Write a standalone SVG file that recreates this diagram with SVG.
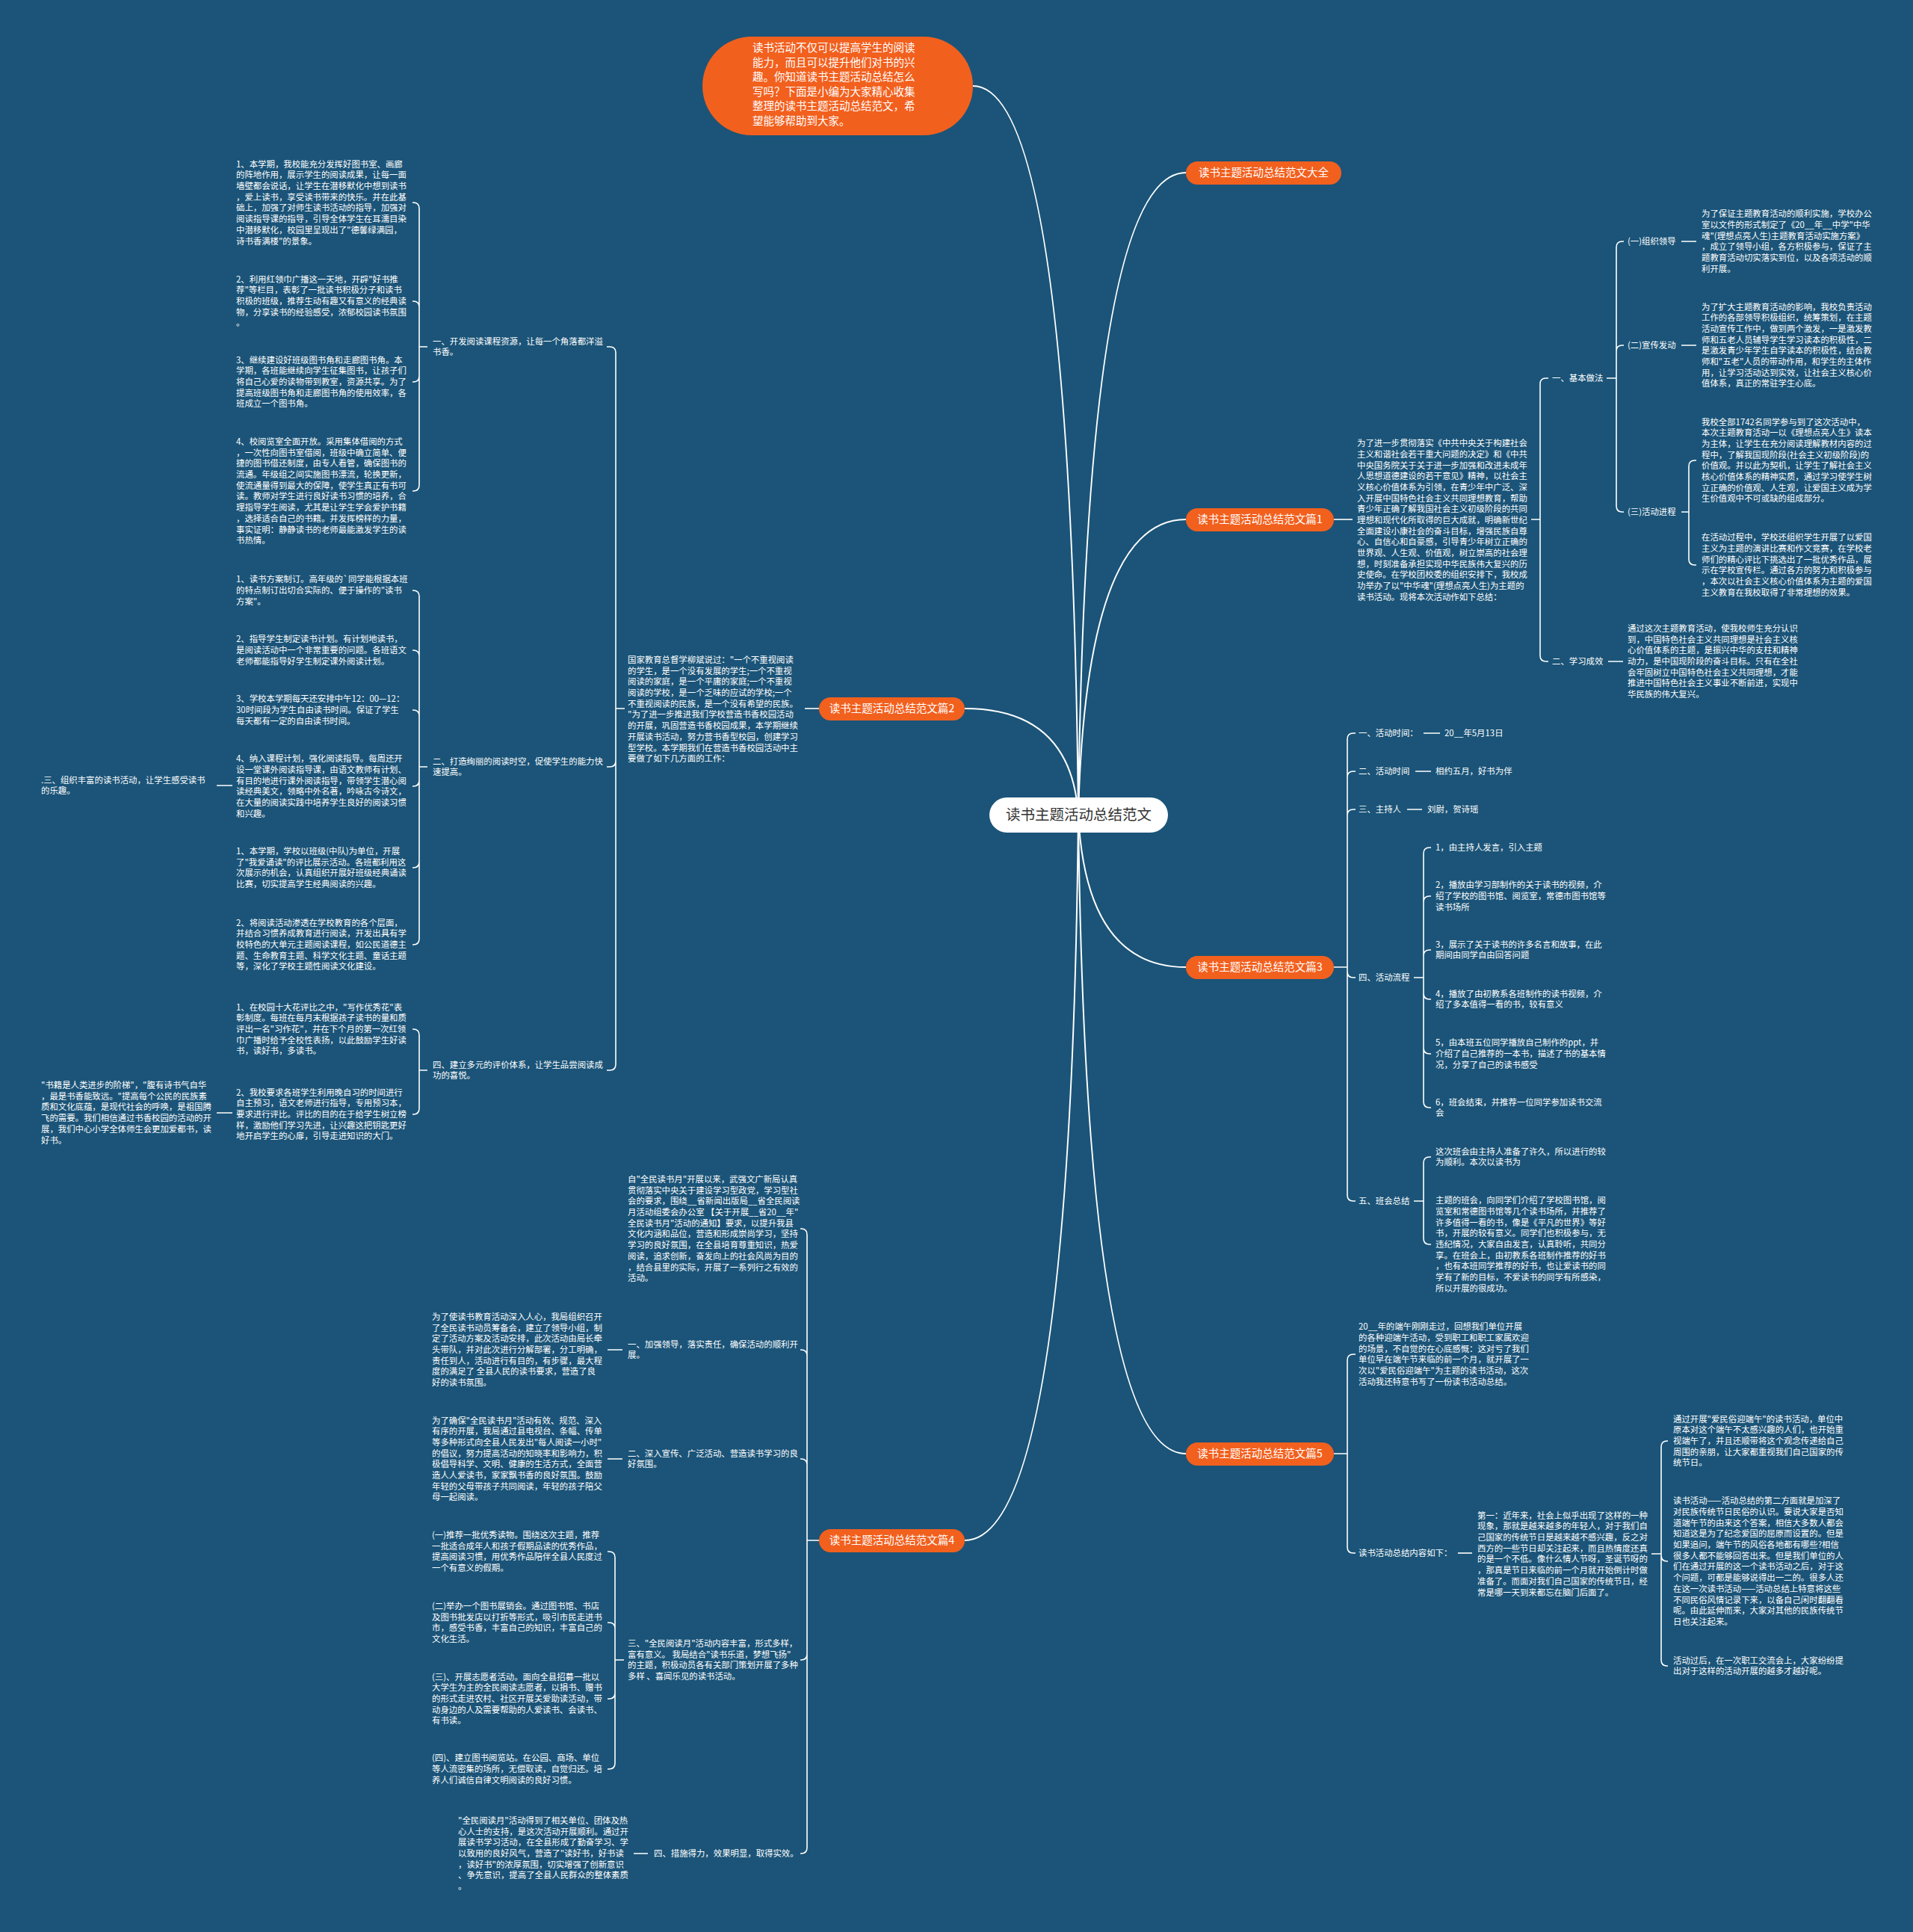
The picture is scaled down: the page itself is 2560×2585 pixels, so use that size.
<svg xmlns="http://www.w3.org/2000/svg" width="2560" height="2585" viewBox="0 0 2560 2585">
<style>
text{font-family:"Noto Sans CJK SC","Noto Sans",sans-serif;fill:#ffffff}
.t{font-size:11.4px}
.p{font-size:14.5px;text-anchor:middle}
.b{font-size:14.5px}
.ctr{font-size:19.5px;text-anchor:middle;fill:#333333}
.pill{fill:#f2601e}
.c{fill:none;stroke:#ffffff;stroke-width:1.6}
.m{fill:none;stroke:#ffffff;stroke-width:2}
</style>
<rect width="2560" height="2585" fill="#1b5478"/>
<g id="connectors">
<path class="m" d="M1443 1090Q1433 115 1302 115"/>
<path class="m" d="M1443 1090Q1453 231 1587 231"/>
<path class="m" d="M1443 1090Q1453 695 1587 695"/>
<path class="m" d="M1443 1090Q1453 1294 1587 1294"/>
<path class="m" d="M1443 1090Q1453 1945 1587 1945"/>
<path class="m" d="M1443 1090Q1433 948 1291 948"/>
<path class="m" d="M1443 1090Q1433 2061 1291 2061"/>
<path class="c" d="M1096 948H1077"/>
<path class="c" d="M836 948H824V472Q824 464 816 464H812M836 948H824V1018Q824 1026 816 1026H812M836 948H824V1424Q824 1432 816 1432H812"/>
<path class="c" d="M572 464H561V279Q561 271 553 271H552M572 464H561V411Q561 403 553 403H552M572 464H561V503Q561 511 553 511H552M572 464H561V649Q561 657 553 657H552"/>
<path class="c" d="M572 1026H561V798Q561 790 553 790H552M572 1026H561V878Q561 870 553 870H552M572 1026H561V958Q561 950 553 950H552M572 1026H561V1044Q561 1052 553 1052H552M572 1026H561V1153Q561 1161 553 1161H552M572 1026H561V1256Q561 1264 553 1264H552"/>
<path class="c" d="M572 1432H561V1385Q561 1377 553 1377H552M572 1432H561V1483Q561 1491 553 1491H552"/>
<path class="c" d="M290 1051H311M290 1489H311"/>
<path class="c" d="M1096 2061H1080V1652Q1080 1644 1072 1644H1071M1096 2061H1080V1814Q1080 1806 1072 1806H1071M1096 2061H1080V1960Q1080 1952 1072 1952H1071M1096 2061H1080V2213Q1080 2221 1072 2221H1071M1096 2061H1080V2472Q1080 2480 1072 2480H1071"/>
<path class="c" d="M835 2221H823V2084Q823 2076 815 2076H813M835 2221H823V2179Q823 2171 815 2171H813M835 2221H823V2265Q823 2273 815 2273H813M835 2221H823V2359Q823 2367 815 2367H813"/>
<path class="c" d="M813 1806H833M813 1952H833M848 2480H867"/>
<path class="c" d="M1785 695H1810"/>
<path class="c" d="M2049 695H2061V514Q2061 506 2069 506H2072M2049 695H2061V877Q2061 885 2069 885H2072"/>
<path class="c" d="M2150 506H2163V331Q2163 323 2171 323H2173M2150 506H2163V470Q2163 462 2171 462H2173M2150 506H2163V677Q2163 685 2171 685H2173"/>
<path class="c" d="M2250 323H2270M2250 462H2270M2152 885H2172"/>
<path class="c" d="M2250 685H2260V624Q2260 616 2268 616H2270M2250 685H2260V748Q2260 756 2268 756H2270"/>
<path class="c" d="M1785 1294H1803V989Q1803 981 1811 981H1814M1785 1294H1803V1040Q1803 1032 1811 1032H1814M1785 1294H1803V1091Q1803 1083 1811 1083H1814M1785 1294H1803V1300Q1803 1308 1811 1308H1814M1785 1294H1803V1599Q1803 1607 1811 1607H1814"/>
<path class="c" d="M1905 981H1927M1894 1032H1915M1883 1083H1903"/>
<path class="c" d="M1892 1308H1905V1142Q1905 1134 1913 1134H1915M1892 1308H1905V1207Q1905 1199 1913 1199H1915M1892 1308H1905V1279Q1905 1271 1913 1271H1915M1892 1308H1905V1329Q1905 1337 1913 1337H1915M1892 1308H1905V1402Q1905 1410 1913 1410H1915M1892 1308H1905V1474Q1905 1482 1913 1482H1915"/>
<path class="c" d="M1892 1607H1905V1556Q1905 1548 1913 1548H1915M1892 1607H1905V1657Q1905 1665 1913 1665H1915"/>
<path class="c" d="M1785 1945H1803V1820Q1803 1812 1811 1812H1814M1785 1945H1803V2070Q1803 2078 1811 2078H1814"/>
<path class="c" d="M1951 2078H1970"/>
<path class="c" d="M2210 2079H2223V1936Q2223 1928 2231 1928H2232M2210 2079H2223V2081Q2223 2089 2231 2089H2232M2210 2079H2223V2221Q2223 2229 2231 2229H2232"/>
</g>
<g id="intro-bubble">
<rect class="pill" x="940" y="49" width="362" height="132" rx="66" ry="66"/>
<text class="b" x="1007" y="69"><tspan x="1007">读书活动不仅可以提高学生的阅读</tspan><tspan x="1007" dy="19.5">能力，而且可以提升他们对书的兴</tspan><tspan x="1007" dy="19.5">趣。你知道读书主题活动总结怎么</tspan><tspan x="1007" dy="19.5">写吗？下面是小编为大家精心收集</tspan><tspan x="1007" dy="19.5">整理的读书主题活动总结范文，希</tspan><tspan x="1007" dy="19.5">望能够帮助到大家。</tspan></text>
</g>
<g id="center">
<rect x="1324" y="1067" width="239" height="47" rx="23.5" fill="#ffffff"/>
<text class="ctr" x="1443.5" y="1097">读书主题活动总结范文</text>
</g>
<g id="branch-daquan"><rect class="pill" x="1587" y="216" width="208" height="31" rx="15.5"/><text class="p" x="1691" y="236">读书主题活动总结范文大全</text></g>
<g id="branch-1"><rect class="pill" x="1587" y="680" width="198" height="31" rx="15.5"/><text class="p" x="1686" y="700">读书主题活动总结范文篇1</text></g>
<g id="branch-3"><rect class="pill" x="1587" y="1279" width="198" height="31" rx="15.5"/><text class="p" x="1686" y="1299">读书主题活动总结范文篇3</text></g>
<g id="branch-5"><rect class="pill" x="1587" y="1930" width="198" height="31" rx="15.5"/><text class="p" x="1686" y="1950">读书主题活动总结范文篇5</text></g>
<g id="branch-2"><rect class="pill" x="1096" y="933" width="195" height="31" rx="15.5"/><text class="p" x="1193.5" y="953">读书主题活动总结范文篇2</text></g>
<g id="branch-4"><rect class="pill" x="1096" y="2046" width="195" height="31" rx="15.5"/><text class="p" x="1193.5" y="2066">读书主题活动总结范文篇4</text></g>

<g id="b2-text"><text class="t" x="840" y="886.9"><tspan x="840">国家教育总督学柳斌说过："一个不重视阅读</tspan><tspan x="840" dy="14.7">的学生，是一个没有发展的学生;一个不重视</tspan><tspan x="840" dy="14.7">阅读的家庭，是一个平庸的家庭;一个不重视</tspan><tspan x="840" dy="14.7">阅读的学校，是一个乏味的应试的学校;一个</tspan><tspan x="840" dy="14.7">不重视阅读的民族，是一个没有希望的民族。</tspan><tspan x="840" dy="14.7">"为了进一步推进我们学校营造书香校园活动</tspan><tspan x="840" dy="14.7">的开展，巩固营造书香校园成果，本学期继续</tspan><tspan x="840" dy="14.7">开展读书活动，努力营书香型校园，创建学习</tspan><tspan x="840" dy="14.7">型学校。本学期我们在营造书香校园活动中主</tspan><tspan x="840" dy="14.7">要做了如下几方面的工作：</tspan></text></g>
<g id="b2-l1"><text class="t" x="579" y="460.6"><tspan x="579">一、开发阅读课程资源，让每一个角落都洋溢</tspan><tspan x="579" dy="14.7">书香。</tspan></text></g>
<g id="b2-a1"><text class="t" x="316" y="223.6"><tspan x="316">1、本学期，我校能充分发挥好图书室、画廊</tspan><tspan x="316" dy="14.7">的阵地作用，展示学生的阅读成果，让每一面</tspan><tspan x="316" dy="14.7">墙壁都会说话，让学生在潜移默化中想到读书</tspan><tspan x="316" dy="14.7">，爱上读书，享受读书带来的快乐。并在此基</tspan><tspan x="316" dy="14.7">础上，加强了对师生读书活动的指导，加强对</tspan><tspan x="316" dy="14.7">阅读指导课的指导，引导全体学生在耳濡目染</tspan><tspan x="316" dy="14.7">中潜移默化，校园里呈现出了"德馨绿满园，</tspan><tspan x="316" dy="14.7">诗书香满楼"的景象。</tspan></text></g>
<g id="b2-a2"><text class="t" x="316" y="377.6"><tspan x="316">2、利用红领巾广播这一天地，开辟"好书推</tspan><tspan x="316" dy="14.7">荐"等栏目，表彰了一批读书积极分子和读书</tspan><tspan x="316" dy="14.7">积极的班级，推荐生动有趣又有意义的经典读</tspan><tspan x="316" dy="14.7">物，分享读书的经验感受，浓郁校园读书氛围</tspan><tspan x="316" dy="14.7">。</tspan></text></g>
<g id="b2-a3"><text class="t" x="316" y="485.6"><tspan x="316">3、继续建设好班级图书角和走廊图书角。本</tspan><tspan x="316" dy="14.7">学期，各班能继续向学生征集图书，让孩子们</tspan><tspan x="316" dy="14.7">将自己心爱的读物带到教室，资源共享。为了</tspan><tspan x="316" dy="14.7">提高班级图书角和走廊图书角的使用效率，各</tspan><tspan x="316" dy="14.7">班成立一个图书角。</tspan></text></g>
<g id="b2-a4"><text class="t" x="316" y="594.9"><tspan x="316">4、校阅览室全面开放。采用集体借阅的方式</tspan><tspan x="316" dy="14.7">，一次性向图书室借阅，班级中确立简单、便</tspan><tspan x="316" dy="14.7">捷的图书借还制度，由专人看管，确保图书的</tspan><tspan x="316" dy="14.7">流通。年级组之间实施图书漂流，轮换更新，</tspan><tspan x="316" dy="14.7">使流通量得到最大的保障，使学生真正有书可</tspan><tspan x="316" dy="14.7">读。教师对学生进行良好读书习惯的培养，合</tspan><tspan x="316" dy="14.7">理指导学生阅读，尤其是让学生学会爱护书籍</tspan><tspan x="316" dy="14.7">，选择适合自己的书籍。并发挥榜样的力量，</tspan><tspan x="316" dy="14.7">事实证明：静静读书的老师最能激发学生的读</tspan><tspan x="316" dy="14.7">书热情。</tspan></text></g>
<g id="b2-l2"><text class="t" x="579" y="1022.6"><tspan x="579">二、打造绚丽的阅读时空，促使学生的能力快</tspan><tspan x="579" dy="14.7">速提高。</tspan></text></g>
<g id="b2-b1"><text class="t" x="316" y="779.3"><tspan x="316">1、读书方案制订。高年级的`同学能根据本班</tspan><tspan x="316" dy="14.7">的特点制订出切合实际的、便于操作的"读书</tspan><tspan x="316" dy="14.7">方案"。</tspan></text></g>
<g id="b2-b2"><text class="t" x="316" y="859.3"><tspan x="316">2、指导学生制定读书计划。有计划地读书，</tspan><tspan x="316" dy="14.7">是阅读活动中一个非常重要的问题。各班语文</tspan><tspan x="316" dy="14.7">老师都能指导好学生制定课外阅读计划。</tspan></text></g>
<g id="b2-b3"><text class="t" x="316" y="939.3"><tspan x="316">3、学校本学期每天还安排中午12：00—12：</tspan><tspan x="316" dy="14.7">30时间段为学生自由读书时间。保证了学生</tspan><tspan x="316" dy="14.7">每天都有一定的自由读书时间。</tspan></text></g>
<g id="b2-b4"><text class="t" x="316" y="1019.3"><tspan x="316">4、纳入课程计划，强化阅读指导。每周还开</tspan><tspan x="316" dy="14.7">设一堂课外阅读指导课，由语文教师有计划、</tspan><tspan x="316" dy="14.7">有目的地进行课外阅读指导，带领学生潜心阅</tspan><tspan x="316" dy="14.7">读经典美文，领略中外名著，吟咏古今诗文，</tspan><tspan x="316" dy="14.7">在大量的阅读实践中培养学生良好的阅读习惯</tspan><tspan x="316" dy="14.7">和兴趣。</tspan></text></g>
<g id="b2-b5"><text class="t" x="316" y="1143"><tspan x="316">1、本学期，学校以班级(中队)为单位，开展</tspan><tspan x="316" dy="14.7">了"我爱诵读"的评比展示活动。各班都利用这</tspan><tspan x="316" dy="14.7">次展示的机会，认真组织开展好班级经典诵读</tspan><tspan x="316" dy="14.7">比赛，切实提高学生经典阅读的兴趣。</tspan></text></g>
<g id="b2-b6"><text class="t" x="316" y="1238.6"><tspan x="316">2、将阅读活动渗透在学校教育的各个层面，</tspan><tspan x="316" dy="14.7">并结合习惯养成教育进行阅读，开发出具有学</tspan><tspan x="316" dy="14.7">校特色的大单元主题阅读课程，如公民道德主</tspan><tspan x="316" dy="14.7">题、生命教育主题、科学文化主题、童话主题</tspan><tspan x="316" dy="14.7">等，深化了学校主题性阅读文化建设。</tspan></text></g>
<g id="b2-l3"><text class="t" x="55" y="1047.6"><tspan x="55">.三、组织丰富的读书活动，让学生感受读书</tspan><tspan x="55" dy="14.7">的乐趣。</tspan></text></g>
<g id="b2-l4"><text class="t" x="579" y="1428.6"><tspan x="579">四、建立多元的评价体系，让学生品尝阅读成</tspan><tspan x="579" dy="14.7">功的喜悦。</tspan></text></g>
<g id="b2-c1"><text class="t" x="316" y="1351.6"><tspan x="316">1、在校园十大花评比之中，"写作优秀花"表</tspan><tspan x="316" dy="14.7">彰制度。每班在每月末根据孩子读书的量和质</tspan><tspan x="316" dy="14.7">评出一名"习作花"，并在下个月的第一次红领</tspan><tspan x="316" dy="14.7">巾广播时给予全校性表扬，以此鼓励学生好读</tspan><tspan x="316" dy="14.7">书，读好书，多读书。</tspan></text></g>
<g id="b2-c2"><text class="t" x="316" y="1465.6"><tspan x="316">2、我校要求各班学生利用晚自习的时间进行</tspan><tspan x="316" dy="14.7">自主预习，语文老师进行指导，专用预习本，</tspan><tspan x="316" dy="14.7">要求进行评比。评比的目的在于给学生树立榜</tspan><tspan x="316" dy="14.7">样，激励他们学习先进，让兴趣这把钥匙更好</tspan><tspan x="316" dy="14.7">地开启学生的心扉，引导走进知识的大门。</tspan></text></g>
<g id="b2-quote"><text class="t" x="55" y="1456"><tspan x="55">"书籍是人类进步的阶梯"，"腹有诗书气自华</tspan><tspan x="55" dy="14.7">，最是书香能致远。"提高每个公民的民族素</tspan><tspan x="55" dy="14.7">质和文化底蕴，是现代社会的呼唤，是祖国腾</tspan><tspan x="55" dy="14.7">飞的需要。我们相信通过书香校园的活动的开</tspan><tspan x="55" dy="14.7">展，我们中心小学全体师生会更加爱都书，读</tspan><tspan x="55" dy="14.7">好书。</tspan></text></g>

<g id="b4-intro"><text class="t" x="840" y="1581.9"><tspan x="840">自"全民读书月"开展以来，武强文广新局认真</tspan><tspan x="840" dy="14.7">贯彻落实中央关于建设学习型政党，学习型社</tspan><tspan x="840" dy="14.7">会的要求，围绕__省新闻出版局__省全民阅读</tspan><tspan x="840" dy="14.7">月活动组委会办公室 【关于开展__省20__年"</tspan><tspan x="840" dy="14.7">全民读书月"活动的通知】要求，以提升我县</tspan><tspan x="840" dy="14.7">文化内涵和品位，营造和形成崇尚学习，坚持</tspan><tspan x="840" dy="14.7">学习的良好氛围，在全县培育尊重知识，热爱</tspan><tspan x="840" dy="14.7">阅读，追求创新，奋发向上的社会风尚为目的</tspan><tspan x="840" dy="14.7">，结合县里的实际，开展了一系列行之有效的</tspan><tspan x="840" dy="14.7">活动。</tspan></text></g>
<g id="b4-l1"><text class="t" x="840" y="1802.6"><tspan x="840">一、加强领导，落实责任，确保活动的顺利开</tspan><tspan x="840" dy="14.7">展。</tspan></text></g>
<g id="b4-l1c"><text class="t" x="578" y="1765.9"><tspan x="578">为了使读书教育活动深入人心，我局组织召开</tspan><tspan x="578" dy="14.7">了全民读书动员筹备会，建立了领导小组，制</tspan><tspan x="578" dy="14.7">定了活动方案及活动安排，此次活动由局长牵</tspan><tspan x="578" dy="14.7">头带队，并对此次进行分解部署，分工明确，</tspan><tspan x="578" dy="14.7">责任到人，活动进行有目的，有步骤，最大程</tspan><tspan x="578" dy="14.7">度的满足了 全县人民的读书要求，营造了良</tspan><tspan x="578" dy="14.7">好的读书氛围。</tspan></text></g>
<g id="b4-l2"><text class="t" x="840" y="1948.6"><tspan x="840">二、深入宣传、广泛活动、营造读书学习的良</tspan><tspan x="840" dy="14.7">好氛围。</tspan></text></g>
<g id="b4-l2c"><text class="t" x="578" y="1904.5"><tspan x="578">为了确保"全民读书月"活动有效、规范、深入</tspan><tspan x="578" dy="14.7">有序的开展，我局通过县电视台、条幅、传单</tspan><tspan x="578" dy="14.7">等多种形式向全县人民发出"每人阅读一小时"</tspan><tspan x="578" dy="14.7">的倡议，努力提高活动的知晓率和影响力，积</tspan><tspan x="578" dy="14.7">极倡导科学、文明、健康的生活方式，全面营</tspan><tspan x="578" dy="14.7">造人人爱读书，家家飘书香的良好氛围。鼓励</tspan><tspan x="578" dy="14.7">年轻的父母带孩子共同阅读，年轻的孩子陪父</tspan><tspan x="578" dy="14.7">母一起阅读。</tspan></text></g>
<g id="b4-l3"><text class="t" x="840" y="2203"><tspan x="840">三、"全民阅读月"活动内容丰富，形式多样，</tspan><tspan x="840" dy="14.7">富有意义。 我局结合"读书乐道，梦想飞扬"</tspan><tspan x="840" dy="14.7">的主题，积极动员各有关部门策划开展了多种</tspan><tspan x="840" dy="14.7">多样 、喜闻乐见的读书活动。</tspan></text></g>
<g id="b4-l3a"><text class="t" x="578" y="2058"><tspan x="578">(一)推荐一批优秀读物。围绕这次主题，推荐</tspan><tspan x="578" dy="14.7">一批适合成年人和孩子假期品读的优秀作品，</tspan><tspan x="578" dy="14.7">提高阅读习惯，用优秀作品陪伴全县人民度过</tspan><tspan x="578" dy="14.7">一个有意义的假期。</tspan></text></g>
<g id="b4-l3b"><text class="t" x="578" y="2153"><tspan x="578">(二)举办一个图书展销会。通过图书馆、书店</tspan><tspan x="578" dy="14.7">及图书批发店以打折等形式，吸引市民走进书</tspan><tspan x="578" dy="14.7">市，感受书香，丰富自己的知识，丰富自己的</tspan><tspan x="578" dy="14.7">文化生活。</tspan></text></g>
<g id="b4-l3c"><text class="t" x="578" y="2247.6"><tspan x="578">(三)、开展志愿者活动。面向全县招募一批以</tspan><tspan x="578" dy="14.7">大学生为主的全民阅读志愿者，以捐书、赠书</tspan><tspan x="578" dy="14.7">的形式走进农村、社区开展关爱助读活动，带</tspan><tspan x="578" dy="14.7">动身边的人及需要帮助的人爱读书、会读书、</tspan><tspan x="578" dy="14.7">有书读。</tspan></text></g>
<g id="b4-l3d"><text class="t" x="578" y="2356.3"><tspan x="578">(四)、建立图书阅览站。在公园、商场、单位</tspan><tspan x="578" dy="14.7">等人流密集的场所，无偿取读，自觉归还。培</tspan><tspan x="578" dy="14.7">养人们诚信自律文明阅读的良好习惯。</tspan></text></g>
<g id="b4-l4"><text class="t" x="875" y="2484">四、措施得力，效果明显，取得实效。</text></g>
<g id="b4-l4c"><text class="t" x="613" y="2439.9"><tspan x="613">"全民阅读月"活动得到了相关单位、团体及热</tspan><tspan x="613" dy="14.7">心人士的支持，是这次活动开展顺利。通过开</tspan><tspan x="613" dy="14.7">展读书学习活动，在全县形成了勤奋学习、学</tspan><tspan x="613" dy="14.7">以致用的良好风气，营造了"读好书，好书读</tspan><tspan x="613" dy="14.7">，读好书"的浓厚氛围，切实增强了创新意识</tspan><tspan x="613" dy="14.7">、争先意识，提高了全县人民群众的整体素质</tspan><tspan x="613" dy="14.7">。</tspan></text></g>

<g id="b1-text"><text class="t" x="1816" y="597.1"><tspan x="1816">为了进一步贯彻落实《中共中央关于构建社会</tspan><tspan x="1816" dy="14.7">主义和谐社会若干重大问题的决定》和《中共</tspan><tspan x="1816" dy="14.7">中央国务院关于关于进一步加强和改进未成年</tspan><tspan x="1816" dy="14.7">人思想道德建设的若干意见》精神，以社会主</tspan><tspan x="1816" dy="14.7">义核心价值体系为引领，在青少年中广泛、深</tspan><tspan x="1816" dy="14.7">入开展中国特色社会主义共同理想教育，帮助</tspan><tspan x="1816" dy="14.7">青少年正确了解我国社会主义初级阶段的共同</tspan><tspan x="1816" dy="14.7">理想和现代化所取得的巨大成就，明确新世纪</tspan><tspan x="1816" dy="14.7">全面建设小康社会的奋斗目标，增强民族自尊</tspan><tspan x="1816" dy="14.7">心、自信心和自豪感，引导青少年树立正确的</tspan><tspan x="1816" dy="14.7">世界观、人生观、价值观，树立崇高的社会理</tspan><tspan x="1816" dy="14.7">想，时刻准备承担实现中华民族伟大复兴的历</tspan><tspan x="1816" dy="14.7">史使命。在学校团校委的组织安排下，我校成</tspan><tspan x="1816" dy="14.7">功举办了以"中华魂"(理想点亮人生)为主题的</tspan><tspan x="1816" dy="14.7">读书活动。现将本次活动作如下总结：</tspan></text></g>
<g id="b1-l1"><text class="t" x="2077" y="510">一、基本做法</text></g>
<g id="b1-l1a"><text class="t" x="2178" y="327">(一)组织领导</text><text class="t" x="2277" y="290.3"><tspan x="2277">为了保证主题教育活动的顺利实施，学校办公</tspan><tspan x="2277" dy="14.7">室以文件的形式制定了《20__年__中学"中华</tspan><tspan x="2277" dy="14.7">魂"(理想点亮人生)主题教育活动实施方案》</tspan><tspan x="2277" dy="14.7">，成立了领导小组，各方积极参与，保证了主</tspan><tspan x="2277" dy="14.7">题教育活动切实落实到位，以及各项活动的顺</tspan><tspan x="2277" dy="14.7">利开展。</tspan></text></g>
<g id="b1-l1b"><text class="t" x="2178" y="466">(二)宣传发动</text><text class="t" x="2277" y="414.5"><tspan x="2277">为了扩大主题教育活动的影响，我校负责活动</tspan><tspan x="2277" dy="14.7">工作的各部领导积极组织，统筹策划，在主题</tspan><tspan x="2277" dy="14.7">活动宣传工作中，做到两个激发，一是激发教</tspan><tspan x="2277" dy="14.7">师和五老人员辅导学生学习读本的积极性，二</tspan><tspan x="2277" dy="14.7">是激发青少年学生自学读本的积极性，结合教</tspan><tspan x="2277" dy="14.7">师和"五老"人员的带动作用，和学生的主体作</tspan><tspan x="2277" dy="14.7">用，让学习活动达到实效，让社会主义核心价</tspan><tspan x="2277" dy="14.7">值体系，真正的常驻学生心底。</tspan></text></g>
<g id="b1-l1c"><text class="t" x="2178" y="689">(三)活动进程</text><text class="t" x="2277" y="568.5"><tspan x="2277">我校全部1742名同学参与到了这次活动中，</tspan><tspan x="2277" dy="14.7">本次主题教育活动一以《理想点亮人生》读本</tspan><tspan x="2277" dy="14.7">为主体，让学生在充分阅读理解教材内容的过</tspan><tspan x="2277" dy="14.7">程中，了解我国现阶段(社会主义初级阶段)的</tspan><tspan x="2277" dy="14.7">价值观。并以此为契机，让学生了解社会主义</tspan><tspan x="2277" dy="14.7">核心价值体系的精神实质，通过学习使学生树</tspan><tspan x="2277" dy="14.7">立正确的价值观、人生观，让爱国主义成为学</tspan><tspan x="2277" dy="14.7">生价值观中不可或缺的组成部分。</tspan></text><text class="t" x="2277" y="723.3"><tspan x="2277">在活动过程中，学校还组织学生开展了以爱国</tspan><tspan x="2277" dy="14.7">主义为主题的演讲比赛和作文竞赛，在学校老</tspan><tspan x="2277" dy="14.7">师们的精心评比下挑选出了一批优秀作品，展</tspan><tspan x="2277" dy="14.7">示在学校宣传栏。通过各方的努力和积极参与</tspan><tspan x="2277" dy="14.7">，本次以社会主义核心价值体系为主题的爱国</tspan><tspan x="2277" dy="14.7">主义教育在我校取得了非常理想的效果。</tspan></text></g>
<g id="b1-l2"><text class="t" x="2077" y="889">二、学习成效</text><text class="t" x="2178" y="844.9"><tspan x="2178">通过这次主题教育活动，使我校师生充分认识</tspan><tspan x="2178" dy="14.7">到，中国特色社会主义共同理想是社会主义核</tspan><tspan x="2178" dy="14.7">心价值体系的主题，是振兴中华的支柱和精神</tspan><tspan x="2178" dy="14.7">动力，是中国现阶段的奋斗目标。只有在全社</tspan><tspan x="2178" dy="14.7">会牢固树立中国特色社会主义共同理想，才能</tspan><tspan x="2178" dy="14.7">推进中国特色社会主义事业不断前进，实现中</tspan><tspan x="2178" dy="14.7">华民族的伟大复兴。</tspan></text></g>

<g id="b3-l1"><text class="t" x="1818" y="985">一、活动时间：</text><text class="t" x="1933" y="985">20__年5月13日</text></g>
<g id="b3-l2"><text class="t" x="1818" y="1036">二、活动时间</text><text class="t" x="1921" y="1036">相约五月，好书为伴</text></g>
<g id="b3-l3"><text class="t" x="1818" y="1087">三、主持人</text><text class="t" x="1910" y="1087">刘尉，贺诗瑶</text></g>
<g id="b3-l4"><text class="t" x="1818" y="1312">四、活动流程</text>
<text class="t" x="1921" y="1138">1，由主持人发言，引入主题</text>
<text class="t" x="1921" y="1188.3"><tspan x="1921">2，播放由学习部制作的关于读书的视频，介</tspan><tspan x="1921" dy="14.7">绍了学校的图书馆、阅览室，常德市图书馆等</tspan><tspan x="1921" dy="14.7">读书场所</tspan></text>
<text class="t" x="1921" y="1267.6"><tspan x="1921">3，展示了关于读书的许多名言和故事，在此</tspan><tspan x="1921" dy="14.7">期间由同学自由回答问题</tspan></text>
<text class="t" x="1921" y="1333.6"><tspan x="1921">4，播放了由初教系各班制作的读书视频，介</tspan><tspan x="1921" dy="14.7">绍了多本值得一看的书，较有意义</tspan></text>
<text class="t" x="1921" y="1399.3"><tspan x="1921">5，由本班五位同学播放自己制作的ppt，并</tspan><tspan x="1921" dy="14.7">介绍了自己推荐的一本书，描述了书的基本情</tspan><tspan x="1921" dy="14.7">况，分享了自己的读书感受</tspan></text>
<text class="t" x="1921" y="1478.6"><tspan x="1921">6，班会结束，并推荐一位同学参加读书交流</tspan><tspan x="1921" dy="14.7">会</tspan></text></g>
<g id="b3-l5"><text class="t" x="1818" y="1611">五、班会总结</text>
<text class="t" x="1921" y="1544.6"><tspan x="1921">这次班会由主持人准备了许久，所以进行的较</tspan><tspan x="1921" dy="14.7">为顺利。本次以读书为</tspan></text>
<text class="t" x="1921" y="1610.2"><tspan x="1921">主题的班会，向同学们介绍了学校图书馆，阅</tspan><tspan x="1921" dy="14.7">览室和常德图书馆等几个读书场所，并推荐了</tspan><tspan x="1921" dy="14.7">许多值得一看的书，像是《平凡的世界》等好</tspan><tspan x="1921" dy="14.7">书，开展的较有意义。同学们也积极参与，无</tspan><tspan x="1921" dy="14.7">违纪情况，大家自由发言，认真聆听，共同分</tspan><tspan x="1921" dy="14.7">享。在班会上，由初教系各班制作推荐的好书</tspan><tspan x="1921" dy="14.7">，也有本班同学推荐的好书，也让爱读书的同</tspan><tspan x="1921" dy="14.7">学有了新的目标，不爱读书的同学有所感染，</tspan><tspan x="1921" dy="14.7">所以开展的很成功。</tspan></text></g>

<g id="b5-intro"><text class="t" x="1818" y="1779.3"><tspan x="1818">20__年的端午刚刚走过，回想我们单位开展</tspan><tspan x="1818" dy="14.7">的各种迎端午活动，受到职工和职工家属欢迎</tspan><tspan x="1818" dy="14.7">的场景，不自觉的在心底感慨：这对亏了我们</tspan><tspan x="1818" dy="14.7">单位早在端午节来临的前一个月，就开展了一</tspan><tspan x="1818" dy="14.7">次以"爱民俗迎端午"为主题的读书活动，这次</tspan><tspan x="1818" dy="14.7">活动我还特意书写了一份读书活动总结。</tspan></text></g>
<g id="b5-l2"><text class="t" x="1818" y="2082">读书活动总结内容如下：</text></g>
<g id="b5-first"><text class="t" x="1977" y="2031.6"><tspan x="1977">第一：近年来，社会上似乎出现了这样的一种</tspan><tspan x="1977" dy="14.7">现象，那就是越来越多的年轻人，对于我们自</tspan><tspan x="1977" dy="14.7">己国家的传统节日是越来越不感兴趣，反之对</tspan><tspan x="1977" dy="14.7">西方的一些节日却关注起来，而且热情度还真</tspan><tspan x="1977" dy="14.7">的是一个不低。像什么情人节呀，圣诞节呀的</tspan><tspan x="1977" dy="14.7">，那真是节日来临的前一个月就开始倒计时做</tspan><tspan x="1977" dy="14.7">准备了。而面对我们自己国家的传统节日，经</tspan><tspan x="1977" dy="14.7">常是哪一天到来都忘在脑门后面了。</tspan></text></g>
<g id="b5-a"><text class="t" x="2239" y="1902.6"><tspan x="2239">通过开展"爱民俗迎端午"的读书活动，单位中</tspan><tspan x="2239" dy="14.7">原本对这个端午不太感兴趣的人们，也开始重</tspan><tspan x="2239" dy="14.7">视端午了，并且还顺带将这个观念传递给自己</tspan><tspan x="2239" dy="14.7">周围的亲朋，让大家都重视我们自己国家的传</tspan><tspan x="2239" dy="14.7">统节日。</tspan></text></g>
<g id="b5-b"><text class="t" x="2239" y="2012.2"><tspan x="2239">读书活动——活动总结的第二方面就是加深了</tspan><tspan x="2239" dy="14.7">对民族传统节日民俗的认识。要说大家是否知</tspan><tspan x="2239" dy="14.7">道端午节的由来这个答案，相信大多数人都会</tspan><tspan x="2239" dy="14.7">知道这是为了纪念爱国的屈原而设置的。但是</tspan><tspan x="2239" dy="14.7">如果追问，端午节的风俗各地都有哪些?相信</tspan><tspan x="2239" dy="14.7">很多人都不能够回答出来。但是我们单位的人</tspan><tspan x="2239" dy="14.7">们在通过开展的这一个读书活动之后，对于这</tspan><tspan x="2239" dy="14.7">个问题，可都是能够说得出一二的。很多人还</tspan><tspan x="2239" dy="14.7">在这一次读书活动——活动总结上特意将这些</tspan><tspan x="2239" dy="14.7">不同民俗风情记录下来，以备自己闲时翻翻看</tspan><tspan x="2239" dy="14.7">呢。由此延伸而来，大家对其他的民族传统节</tspan><tspan x="2239" dy="14.7">日也关注起来。</tspan></text></g>
<g id="b5-c"><text class="t" x="2239" y="2225.6"><tspan x="2239">活动过后，在一次职工交流会上，大家纷纷提</tspan><tspan x="2239" dy="14.7">出对于这样的活动开展的越多才越好呢。</tspan></text></g>
</svg>
